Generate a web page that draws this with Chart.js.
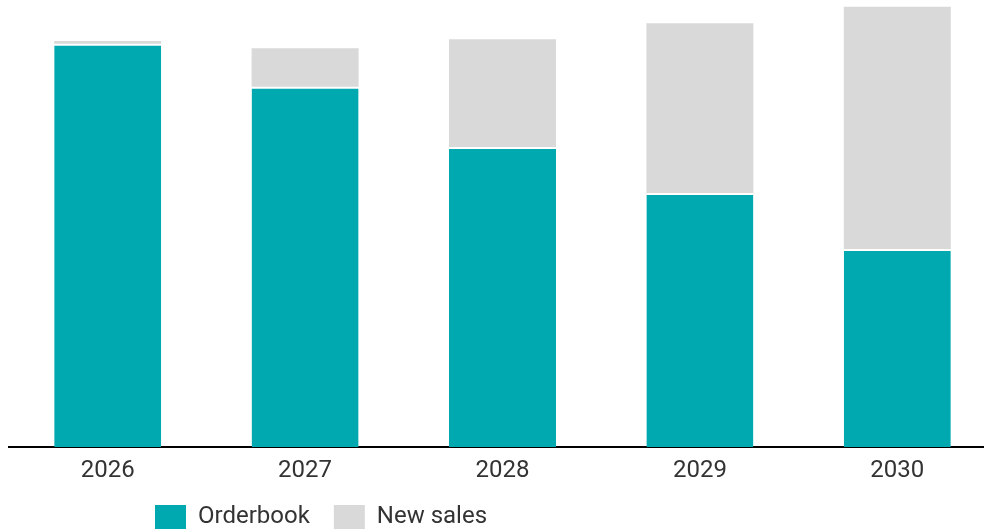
<!DOCTYPE html>
<html>
<head>
<meta charset="utf-8">
<script src="https://cdn.jsdelivr.net/npm/chart.js@4"></script>
<style>
  html, body { margin: 0; padding: 0; background: #ffffff; overflow: hidden; }
  #wrap { width: 996px; height: 529px; position: relative; }
</style>
</head>
<body>
<div id="wrap"><canvas id="c"></canvas></div>
<script>
const categories = ['2026', '2027', '2028', '2029', '2030'];
const orderbook = [90.2, 80.6, 67.1, 56.8, 44.3];
const newSales = [0.6, 8.6, 24.1, 38.0, 54.2];
const seriesNames = ['Orderbook', 'New sales'];

const TEAL = '#00a9b0';
const GREY = '#d9d9d9';
const TEXT = '#333333';

const LEGEND_PAD = 24;
const legendPlacer = {
  id: 'legendPlacer',
  afterLayout(chart) {
    const lg = chart.legend;
    if (!lg) return;
    const w = lg.width, h = lg.height;
    lg.left = 155 - LEGEND_PAD;
    lg.right = lg.left + w;
    lg.top = 505 - LEGEND_PAD;
    lg.bottom = lg.top + h;
  }
};

new Chart(document.getElementById('c'), {
  type: 'bar',
  data: {
    labels: categories,
    datasets: [
      {
        label: seriesNames[0],
        data: orderbook,
        backgroundColor: TEAL,
        borderColor: '#ffffff',
        borderWidth: { top: 2, left: 0, right: 0, bottom: 0 },
        borderSkipped: false,
        barPercentage: 0.542,
        categoryPercentage: 1.0
      },
      {
        label: seriesNames[1],
        data: newSales,
        backgroundColor: GREY,
        borderWidth: 0,
        barPercentage: 0.542,
        categoryPercentage: 1.0
      }
    ]
  },
  options: {
    responsive: true,
    maintainAspectRatio: false,
    animation: false,
    layout: { padding: { left: 9, right: 0, top: 0, bottom: -26 } },
    plugins: {
      tooltip: { enabled: false },
      legend: {
        position: 'bottom',
        align: 'start',
        labels: {
          boxWidth: 31,
          boxHeight: 24,
          padding: LEGEND_PAD,
          color: TEXT,
          font: { family: 'Roboto', size: 24 },
          generateLabels(chart) {
            const items = Chart.defaults.plugins.legend.labels.generateLabels(chart);
            items.forEach(it => { it.lineWidth = 0; it.strokeStyle = 'rgba(0,0,0,0)'; });
            return items;
          }
        }
      }
    },
    scales: {
      x: {
        stacked: true,
        grid: { display: false, drawTicks: false },
        border: { display: true, color: '#000000', width: 2 },
        ticks: { color: TEXT, font: { family: 'Roboto', size: 24 }, padding: 10 },
        afterFit(scale) { scale.height = 50; }
      },
      y: {
        stacked: true,
        display: false,
        min: 0,
        max: 100
      }
    }
  },
  plugins: [legendPlacer]
});
</script>
</body>
</html>
